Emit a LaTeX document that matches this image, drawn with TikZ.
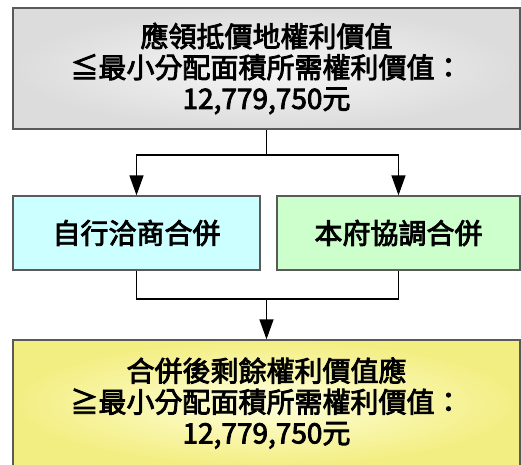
\documentclass[tikz,border=0pt]{standalone}
\usepackage{fontspec}
\usetikzlibrary{arrows.meta}
\newfontfamily\cjk{Noto Sans CJK TC}[FakeBold=3]

\definecolor{edgegray}{HTML}{5A5A5A}
\definecolor{grayin}{HTML}{F6F6F6}
\definecolor{grayout}{HTML}{DCDCDC}
\definecolor{selfcyan}{HTML}{CCFFFF}
\definecolor{govgreen}{HTML}{CCFFCC}
\definecolor{yellowin}{HTML}{FFFFDC}
\definecolor{yellowout}{HTML}{F3EE82}

\begin{document}
\begin{tikzpicture}[x=1pt,y=-1pt,
    box/.style={draw=edgegray, line width=1.3pt, align=center, inner sep=0pt,
        font=\cjk\fontsize{28}{31}\selectfont},
    link/.style={line width=1.3pt},
    tip/.style={-{Triangle[length=20pt,width=14pt]}}]
    \useasboundingbox (0,0) rectangle (521,464);
    \clip (0,0) rectangle (521,464);

    % upper condition
    \node[box, shading=radial, inner color=grayin, outer color=grayout,
        minimum width=507pt, minimum height=121pt] (limit) at (266.5,68.5)
        {應領抵價地權利價值\\≦最小分配面積所需權利價值：\\12,779,750元};

    % the two ways of merging
    \node[box, fill=selfcyan, minimum width=247pt, minimum height=74pt]
        (selfmerge) at (136.5,233) {自行洽商合併};
    \node[box, fill=govgreen, minimum width=243pt, minimum height=74pt]
        (govmerge) at (398.5,233) {本府協調合併};

    % lower condition
    \node[box, shading=radial, inner color=yellowin, outer color=yellowout,
        minimum width=507pt, minimum height=126pt] (remain) at (266.5,403)
        {合併後剩餘權利價值應\\≧最小分配面積所需權利價值：\\12,779,750元};

    % connectors
    \coordinate (fork) at (266.5,155);
    \coordinate (join) at (266.5,299);
    \draw[link] (limit.south) -- (fork);
    \draw[link,tip] (fork) -| (selfmerge.north);
    \draw[link,tip] (fork) -| (govmerge.north);
    \draw[link] (selfmerge.south) |- (join) -| (govmerge.south);
    \draw[link,tip] (join) -- (remain.north);
\end{tikzpicture}
\end{document}
